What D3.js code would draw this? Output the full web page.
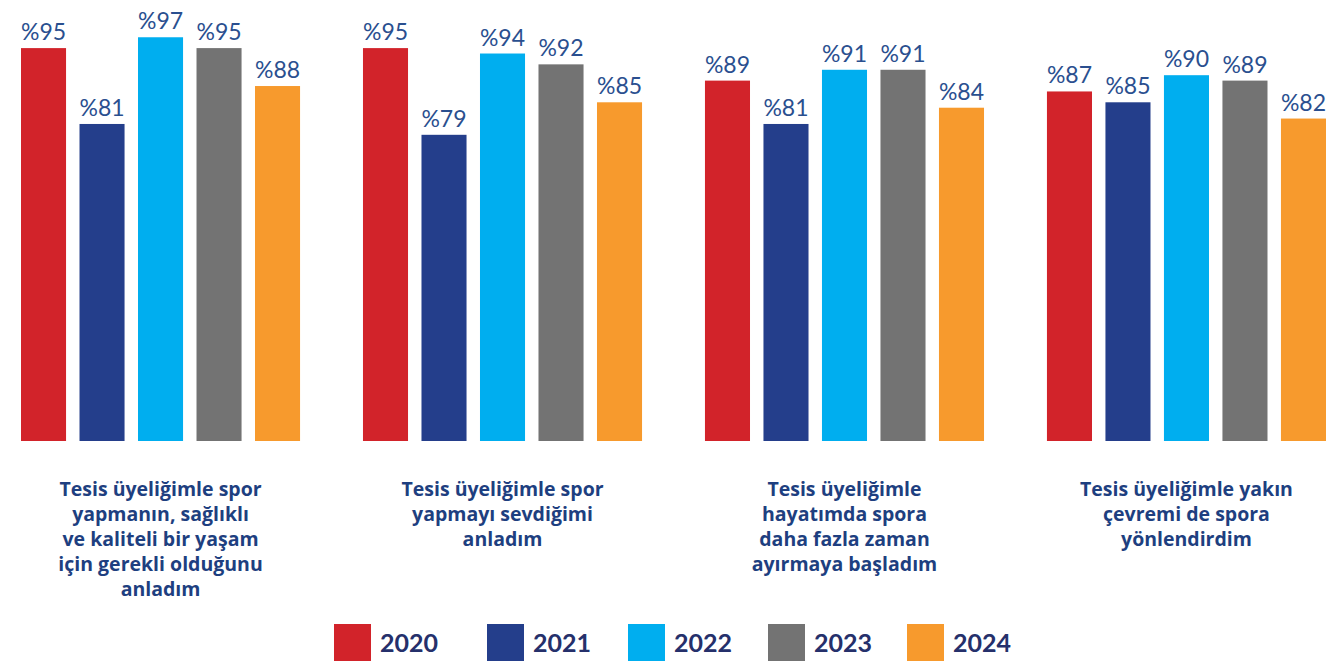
<!DOCTYPE html>
<html>
<head>
<meta charset="utf-8">
<script src="https://cdn.jsdelivr.net/npm/d3@7"></script>
<style>
  html, body { margin: 0; padding: 0; background: #ffffff; }
  svg { display: block; }
</style>
</head>
<body>
<div id="chart"></div>
<script>
// ---- DATA ----
const categories = [
  "Tesis üyeliğimle spor yapmanın, sağlıklı ve kaliteli bir yaşam için gerekli olduğunu anladım",
  "Tesis üyeliğimle spor yapmayı sevdiğimi anladım",
  "Tesis üyeliğimle hayatımda spora daha fazla zaman ayırmaya başladım",
  "Tesis üyeliğimle yakın çevremi de spora yönlendirdim"
];
const categoryLines = [
  ["Tesis üyeliğimle spor", "yapmanın, sağlıklı", "ve kaliteli bir yaşam", "için gerekli olduğunu", "anladım"],
  ["Tesis üyeliğimle spor", "yapmayı sevdiğimi", "anladım"],
  ["Tesis üyeliğimle", "hayatımda spora", "daha fazla zaman", "ayırmaya başladım"],
  ["Tesis üyeliğimle yakın", "çevremi de spora", "yönlendirdim"]
];
const years = ["2020", "2021", "2022", "2023", "2024"];
const values2020 = [95, 95, 89, 87];
const values2021 = [81, 79, 81, 85];
const values2022 = [97, 94, 91, 90];
const values2023 = [95, 92, 91, 89];
const values2024 = [88, 85, 84, 82];
const seriesValues = [values2020, values2021, values2022, values2023, values2024];
const colors = ["#d2232a", "#243e8b", "#00aeef", "#737373", "#f79a2d"];

// ---- LAYOUT ----
const W = 1327, H = 664;
const baseline = 441;

const svg = d3.select("#chart").append("svg")
  .attr("width", W).attr("height", H);

const x0 = d3.scaleBand().domain(d3.range(categories.length))
  .range([21, 1326]).paddingInner(0.184).paddingOuter(0);
const x1 = d3.scaleBand().domain(years)
  .range([0, x0.bandwidth()]).paddingInner(0.23).paddingOuter(0);
const y = d3.scaleLinear().domain([22.5, 100]).range([baseline, 21]);

const groups = svg.selectAll("g.grp").data(categories).enter().append("g")
  .attr("class", "grp")
  .attr("transform", (d, i) => `translate(${x0(i)},0)`);

groups.each(function(cat, ci) {
  const g = d3.select(this);
  const rows = years.map((yr, si) => ({ yr, v: seriesValues[si][ci], c: colors[si] }));
  g.selectAll("rect").data(rows).enter().append("rect")
    .attr("x", d => x1(d.yr))
    .attr("y", d => y(d.v))
    .attr("width", x1.bandwidth())
    .attr("height", d => baseline - y(d.v))
    .attr("fill", d => d.c);
  g.selectAll("text.val").data(rows).enter().append("text")
    .attr("class", "val")
    .attr("x", d => x1(d.yr) + x1.bandwidth() / 2)
    .attr("y", d => y(d.v) - 8)
    .attr("text-anchor", "middle")
    .attr("font-family", "Lato, 'Open Sans', sans-serif")
    .attr("font-weight", 400)
    .attr("font-size", 23)
    .attr("fill", "#2a4f8f")
    .text(d => "%" + d.v);

  const t = g.append("text")
    .attr("x", x0.bandwidth() / 2)
    .attr("y", 496)
    .attr("text-anchor", "middle")
    .attr("font-family", "'Open Sans', Lato, sans-serif")
    .attr("font-weight", 700)
    .attr("font-size", 19.5)
    .attr("fill", "#1e3f80");
  categoryLines[ci].forEach((ln, li) => {
    t.append("tspan").attr("x", x0.bandwidth() / 2)
      .attr("dy", li === 0 ? 0 : 25).text(ln);
  });
});

// ---- LEGEND ----
const legendX = [334, 487, 628, 768, 907];
const leg = svg.selectAll("g.leg").data(years).enter().append("g")
  .attr("class", "leg")
  .attr("transform", (d, i) => `translate(${legendX[i]},624)`);
leg.append("rect").attr("width", 37).attr("height", 37)
  .attr("fill", (d, i) => colors[i]);
leg.append("text").attr("x", 46).attr("y", 28)
  .attr("font-family", "Lato, 'Open Sans', sans-serif")
  .attr("font-weight", 700)
  .attr("font-size", 25)
  .attr("fill", "#25306b")
  .text(d => d);
</script>
</body>
</html>
